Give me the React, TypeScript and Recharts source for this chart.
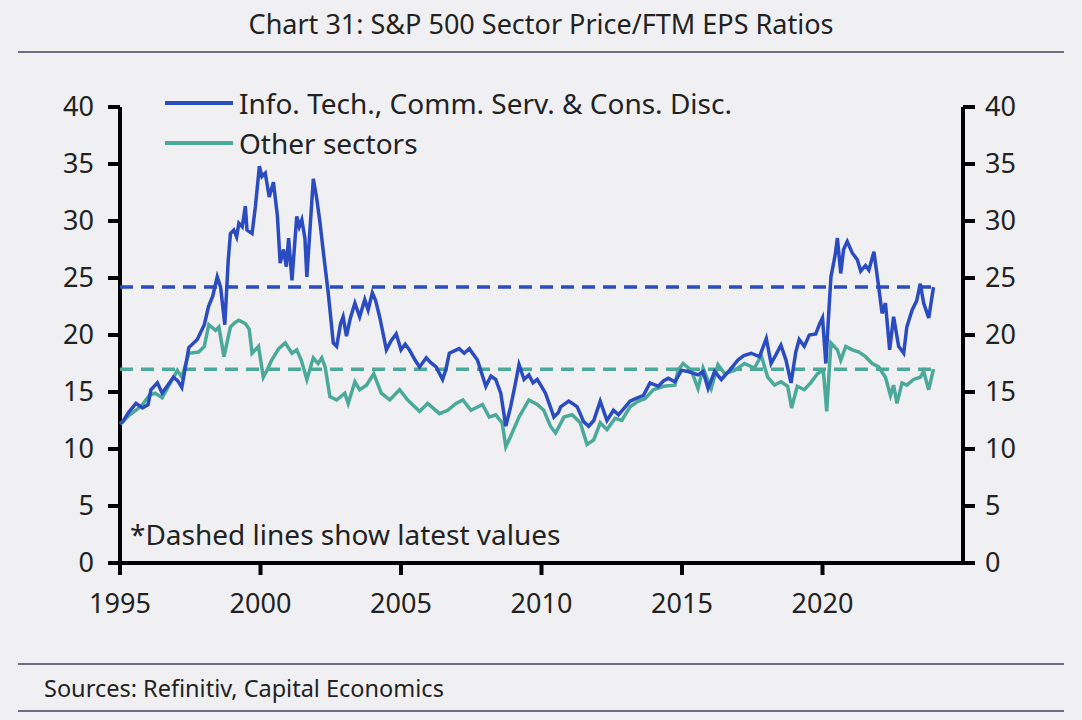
import { LineChart, Line, XAxis, YAxis, ReferenceLine } from 'recharts';

const FONT = '"Noto Sans", "Open Sans", sans-serif';
const BLUE = '#2b4cc0';
const GREEN = '#4aa999';

// Info. Tech., Comm. Serv. & Cons. Disc.
const techDates = [
  1995.0, 1995.1, 1995.3, 1995.57, 1995.8, 1996.0, 1996.1, 1996.33, 1996.5, 1996.7, 1996.9,
  1997.05, 1997.2, 1997.45, 1997.75, 1998.0, 1998.15, 1998.3, 1998.46, 1998.58, 1998.73, 1998.85,
  1998.93, 1999.05, 1999.15, 1999.23, 1999.35, 1999.46, 1999.52, 1999.7, 1999.82, 1999.96, 2000.05,
  2000.17, 2000.31, 2000.46, 2000.6, 2000.7, 2000.82, 2000.92, 2001.0, 2001.12, 2001.29, 2001.38,
  2001.47, 2001.58, 2001.65, 2001.78, 2001.88, 2002.0, 2002.12, 2002.25, 2002.41, 2002.59, 2002.71,
  2002.85, 2002.94, 2003.06, 2003.2, 2003.36, 2003.53, 2003.71, 2003.83, 2003.98, 2004.1, 2004.24,
  2004.48, 2004.65, 2004.83, 2005.0, 2005.15, 2005.3, 2005.5, 2005.66, 2005.9, 2006.05, 2006.25,
  2006.48, 2006.6, 2006.72, 2007.07, 2007.25, 2007.43, 2007.72, 2007.85, 2008.02, 2008.2, 2008.37,
  2008.55, 2008.73, 2008.9, 2009.05, 2009.2, 2009.38, 2009.55, 2009.7, 2009.85, 2010.0, 2010.14,
  2010.3, 2010.44, 2010.6, 2010.68, 2010.97, 2011.1, 2011.27, 2011.5, 2011.68, 2011.86, 2012.09,
  2012.33, 2012.56, 2012.74, 2012.98, 2013.15, 2013.33, 2013.63, 2013.86, 2014.16, 2014.35, 2014.51,
  2014.75, 2014.98, 2015.22, 2015.57, 2015.75, 2015.93, 2016.16, 2016.4, 2016.69, 2016.99, 2017.2,
  2017.46, 2017.76, 2018.0, 2018.17, 2018.35, 2018.52, 2018.7, 2018.88, 2019.05, 2019.17, 2019.35,
  2019.53, 2019.76, 2019.9, 2020.0, 2020.12, 2020.2, 2020.3, 2020.45, 2020.53, 2020.65, 2020.75,
  2020.88, 2021.06, 2021.24, 2021.36, 2021.53, 2021.65, 2021.83, 2022.0, 2022.12, 2022.24, 2022.39,
  2022.53, 2022.71, 2022.89, 2023.0, 2023.19, 2023.35, 2023.48, 2023.6, 2023.78, 2023.95,
];
const techValues = [
  12.2, 12.4, 13.2, 14.0, 13.6, 13.9, 15.2, 15.8, 14.9, 15.6, 16.3,
  16.0, 15.4, 18.9, 19.6, 20.9, 22.5, 23.4, 25.1, 24.2, 20.9, 26.5,
  28.9, 29.2, 28.6, 29.8, 29.5, 31.3, 29.2, 28.9, 31.3, 34.8, 33.9,
  34.2, 32.1, 33.4, 30.5, 26.3, 27.5, 26.0, 28.5, 24.8, 30.4, 29.5,
  30.1, 28.5, 25.1, 30.0, 33.7, 32.0, 29.8, 27.0, 23.7, 19.3, 19.0,
  21.0, 21.6, 19.9, 21.5, 22.8, 21.6, 23.1, 22.2, 23.7, 23.0, 21.6,
  18.7, 19.5, 20.1, 18.7, 19.2, 18.7, 17.8, 17.2, 18.0, 17.6, 17.2,
  16.1, 17.0, 18.4, 18.8, 18.4, 18.8, 17.8, 16.8, 15.5, 16.4, 16.1,
  14.9, 12.0, 13.7, 15.5, 17.4, 16.1, 16.5, 15.8, 16.1, 15.5, 14.9,
  13.8, 12.8, 13.2, 13.7, 14.2, 14.0, 13.7, 12.4, 12.0, 12.5, 14.2,
  12.5, 13.4, 13.0, 13.7, 14.2, 14.4, 14.7, 15.8, 15.5, 16.0, 16.2,
  15.9, 16.9, 16.8, 16.5, 16.8, 15.3, 16.8, 16.1, 16.9, 17.8, 18.2,
  18.4, 18.1, 19.7, 17.5, 18.3, 19.1, 17.8, 15.8, 18.5, 19.6, 19.0,
  20.0, 20.1, 21.0, 21.5, 17.5, 21.0, 25.1, 27.0, 28.5, 25.4, 27.5,
  28.2, 27.2, 26.6, 25.6, 26.1, 25.7, 27.3, 24.2, 21.9, 22.8, 18.7,
  21.6, 19.0, 18.4, 20.7, 22.2, 23.0, 24.5, 22.8, 21.5, 24.2,
];

// Other sectors
const otherDates = [
  1995.0, 1995.1, 1995.3, 1995.57, 1995.8, 1996.04, 1996.25, 1996.5, 1996.75, 1997.04, 1997.2,
  1997.45, 1997.8, 1998.0, 1998.16, 1998.4, 1998.52, 1998.7, 1998.93, 1999.1, 1999.23, 1999.46,
  1999.6, 1999.7, 1999.93, 2000.1, 2000.25, 2000.4, 2000.65, 2000.88, 2001.12, 2001.29, 2001.45,
  2001.65, 2001.88, 2002.05, 2002.18, 2002.3, 2002.47, 2002.71, 2003.0, 2003.12, 2003.36, 2003.53,
  2003.77, 2004.03, 2004.3, 2004.6, 2004.95, 2005.24, 2005.45, 2005.66, 2005.95, 2006.37, 2006.66,
  2006.96, 2007.2, 2007.49, 2007.9, 2008.14, 2008.37, 2008.6, 2008.73, 2008.9, 2009.2, 2009.55,
  2009.85, 2010.08, 2010.32, 2010.5, 2010.8, 2011.09, 2011.38, 2011.62, 2011.86, 2012.09, 2012.33,
  2012.62, 2012.86, 2013.15, 2013.45, 2013.68, 2013.98, 2014.34, 2014.75, 2014.86, 2015.04, 2015.33,
  2015.57, 2015.75, 2016.04, 2016.28, 2016.52, 2016.87, 2017.22, 2017.58, 2017.82, 2018.05, 2018.29,
  2018.52, 2018.76, 2018.9, 2019.1, 2019.35, 2019.58, 2019.82, 2020.03, 2020.15, 2020.3, 2020.53,
  2020.65, 2020.83, 2021.06, 2021.3, 2021.53, 2021.77, 2022.0, 2022.24, 2022.42, 2022.53, 2022.65,
  2022.83, 2023.0, 2023.24, 2023.48, 2023.6, 2023.78, 2023.95,
];
const otherValues = [
  12.2, 12.4, 12.9, 13.4, 13.9, 14.7, 14.9, 14.5, 15.6, 16.9, 16.3,
  18.4, 18.5, 19.0, 20.9, 20.4, 20.7, 18.1, 20.7, 21.1, 21.3, 21.0,
  20.5, 18.4, 19.0, 16.3, 17.0, 17.8, 18.8, 19.3, 18.4, 18.7, 17.8,
  16.1, 18.0, 17.5, 18.0, 17.2, 14.6, 14.3, 14.9, 14.0, 15.9, 15.2,
  15.6, 16.6, 14.9, 14.3, 15.2, 14.3, 13.8, 13.3, 14.0, 13.1, 13.4,
  14.0, 14.3, 13.4, 13.9, 12.8, 13.0, 12.3, 10.2, 11.1, 12.8, 14.3,
  13.9, 13.4, 12.0, 11.4, 12.8, 13.0, 12.3, 10.4, 10.8, 12.3, 11.7,
  12.7, 12.5, 13.7, 14.2, 14.4, 15.2, 15.5, 15.6, 16.9, 17.5, 16.9,
  15.3, 17.1, 15.3, 17.4, 16.6, 16.9, 17.5, 17.1, 18.2, 16.3, 15.6,
  15.9, 15.5, 13.6, 15.5, 15.2, 15.8, 16.6, 16.9, 13.3, 19.3, 18.7,
  17.8, 19.0, 18.7, 18.5, 18.1, 17.5, 17.2, 16.3, 14.7, 15.6, 14.0,
  15.8, 15.6, 16.1, 16.3, 16.8, 15.2, 17.0,
];

const latestTech = 24.2;
const latestOther = 17.0;
const lastDate = 2023.95;

const yTicks = [0, 5, 10, 15, 20, 25, 30, 35, 40];
const xTicks = [1995, 2000, 2005, 2010, 2015, 2020];

const techData = techDates.map((d, i) => ({ date: d, value: techValues[i] }));
const otherData = otherDates.map((d, i) => ({ date: d, value: otherValues[i] }));

const TS = 12; // tick length
const AXIS_W = 4;
const textStyle = { fill: '#222', fontSize: 27, fontFamily: FONT };

const LeftTick = (props: any) => {
  const { x, y, payload } = props;
  const m = 14;
  return (
    <g>
      <line x1={x + m} x2={x + m + TS} y1={y} y2={y} stroke="#000" strokeWidth={AXIS_W} />
      <text x={x} y={y} dy="0.35em" textAnchor="end" {...textStyle}>{payload.value}</text>
    </g>
  );
};

const RightTick = (props: any) => {
  const { x, y, payload } = props;
  const m = 10;
  return (
    <g>
      <line x1={x - m - TS} x2={x - m} y1={y} y2={y} stroke="#000" strokeWidth={AXIS_W} />
      <text x={x} y={y} dy="0.35em" textAnchor="start" {...textStyle}>{payload.value}</text>
    </g>
  );
};

const BottomTick = (props: any) => {
  const { x, y, payload } = props;
  const m = 18;
  return (
    <g>
      <line x1={x} x2={x} y1={y - m - TS} y2={y - m} stroke="#000" strokeWidth={AXIS_W} />
      <text x={x} y={y} dy="0.75em" textAnchor="middle" {...textStyle}>{payload.value}</text>
    </g>
  );
};

export default function App() {
  return (
    <div
      style={{
        position: 'absolute',
        left: 0,
        top: 0,
        width: 1082,
        height: 720,
        background: '#f0f0f3',
        fontFamily: FONT,
        color: '#222',
      }}
    >
      <div style={{ position: 'absolute', top: 5, left: 0, width: 1082, textAlign: 'center', fontSize: 27 }}>
        Chart 31: S&amp;P 500 Sector Price/FTM EPS Ratios
      </div>
      <div style={{ position: 'absolute', top: 51, left: 18, width: 1046, height: 2, background: '#6e6e82' }} />

      <div style={{ position: 'absolute', left: 0, top: 0 }}>
        <LineChart width={1082} height={720} margin={{ top: 107, right: 0, bottom: 97, left: 0 }}>
          <XAxis
            dataKey="date"
            type="number"
            domain={[1995, 2025]}
            ticks={xTicks}
            allowDuplicatedCategory={false}
            axisLine={false}
            tickLine={false}
            tickSize={TS}
            tickMargin={18}
            tick={<BottomTick />}
            height={60}
            interval={0}
          />
          <YAxis
            yAxisId="left"
            domain={[0, 40]}
            ticks={yTicks}
            axisLine={false}
            tickLine={false}
            tickSize={TS}
            tickMargin={14}
            tick={<LeftTick />}
            width={120}
            interval={0}
          />
          <YAxis
            yAxisId="right"
            orientation="right"
            domain={[0, 40]}
            ticks={yTicks}
            axisLine={false}
            tickLine={false}
            tickSize={TS}
            tickMargin={10}
            tick={<RightTick />}
            width={119}
            interval={0}
          />
          {/* axis frame lines */}
          <ReferenceLine yAxisId="left" x={1995} stroke="#000" strokeWidth={AXIS_W} ifOverflow="visible" />
          <ReferenceLine yAxisId="left" x={2025} stroke="#000" strokeWidth={AXIS_W} ifOverflow="visible" />
          <ReferenceLine yAxisId="left" y={0} stroke="#000" strokeWidth={AXIS_W} ifOverflow="visible" />
          <ReferenceLine
            yAxisId="left"
            segment={[{ x: 1995, y: latestTech }, { x: lastDate, y: latestTech }]}
            stroke={BLUE}
            strokeWidth={3.5}
            strokeDasharray="13 8"
          />
          <ReferenceLine
            yAxisId="left"
            segment={[{ x: 1995, y: latestOther }, { x: lastDate, y: latestOther }]}
            stroke={GREEN}
            strokeWidth={3.5}
            strokeDasharray="13 8"
          />
          <Line
            yAxisId="right"
            data={otherData}
            dataKey="value"
            type="linear"
            stroke={GREEN}
            strokeWidth={3.5}
            dot={false}
            isAnimationActive={false}
          />
          <Line
            yAxisId="left"
            data={techData}
            dataKey="value"
            type="linear"
            stroke={BLUE}
            strokeWidth={3.5}
            dot={false}
            isAnimationActive={false}
          />
        </LineChart>
      </div>

      {/* legend */}
      <div style={{ position: 'absolute', left: 165, top: 83, fontSize: 28, lineHeight: '40px' }}>
        <div style={{ display: 'flex', alignItems: 'center' }}>
          <span style={{ display: 'inline-block', width: 68, height: 4, background: BLUE, marginRight: 6 }} />
          Info. Tech., Comm. Serv. &amp; Cons. Disc.
        </div>
        <div style={{ display: 'flex', alignItems: 'center' }}>
          <span style={{ display: 'inline-block', width: 68, height: 4, background: GREEN, marginRight: 6 }} />
          Other sectors
        </div>
      </div>

      <div style={{ position: 'absolute', left: 130, top: 515, fontSize: 28 }}>*Dashed lines show latest values</div>

      <div style={{ position: 'absolute', top: 663, left: 18, width: 1046, height: 2, background: '#6e6e82' }} />
      <div style={{ position: 'absolute', top: 672, left: 44, fontSize: 23.5 }}>Sources: Refinitiv, Capital Economics</div>
      <div style={{ position: 'absolute', top: 710, left: 18, width: 1046, height: 2, background: '#6e6e82' }} />
    </div>
  );
}
